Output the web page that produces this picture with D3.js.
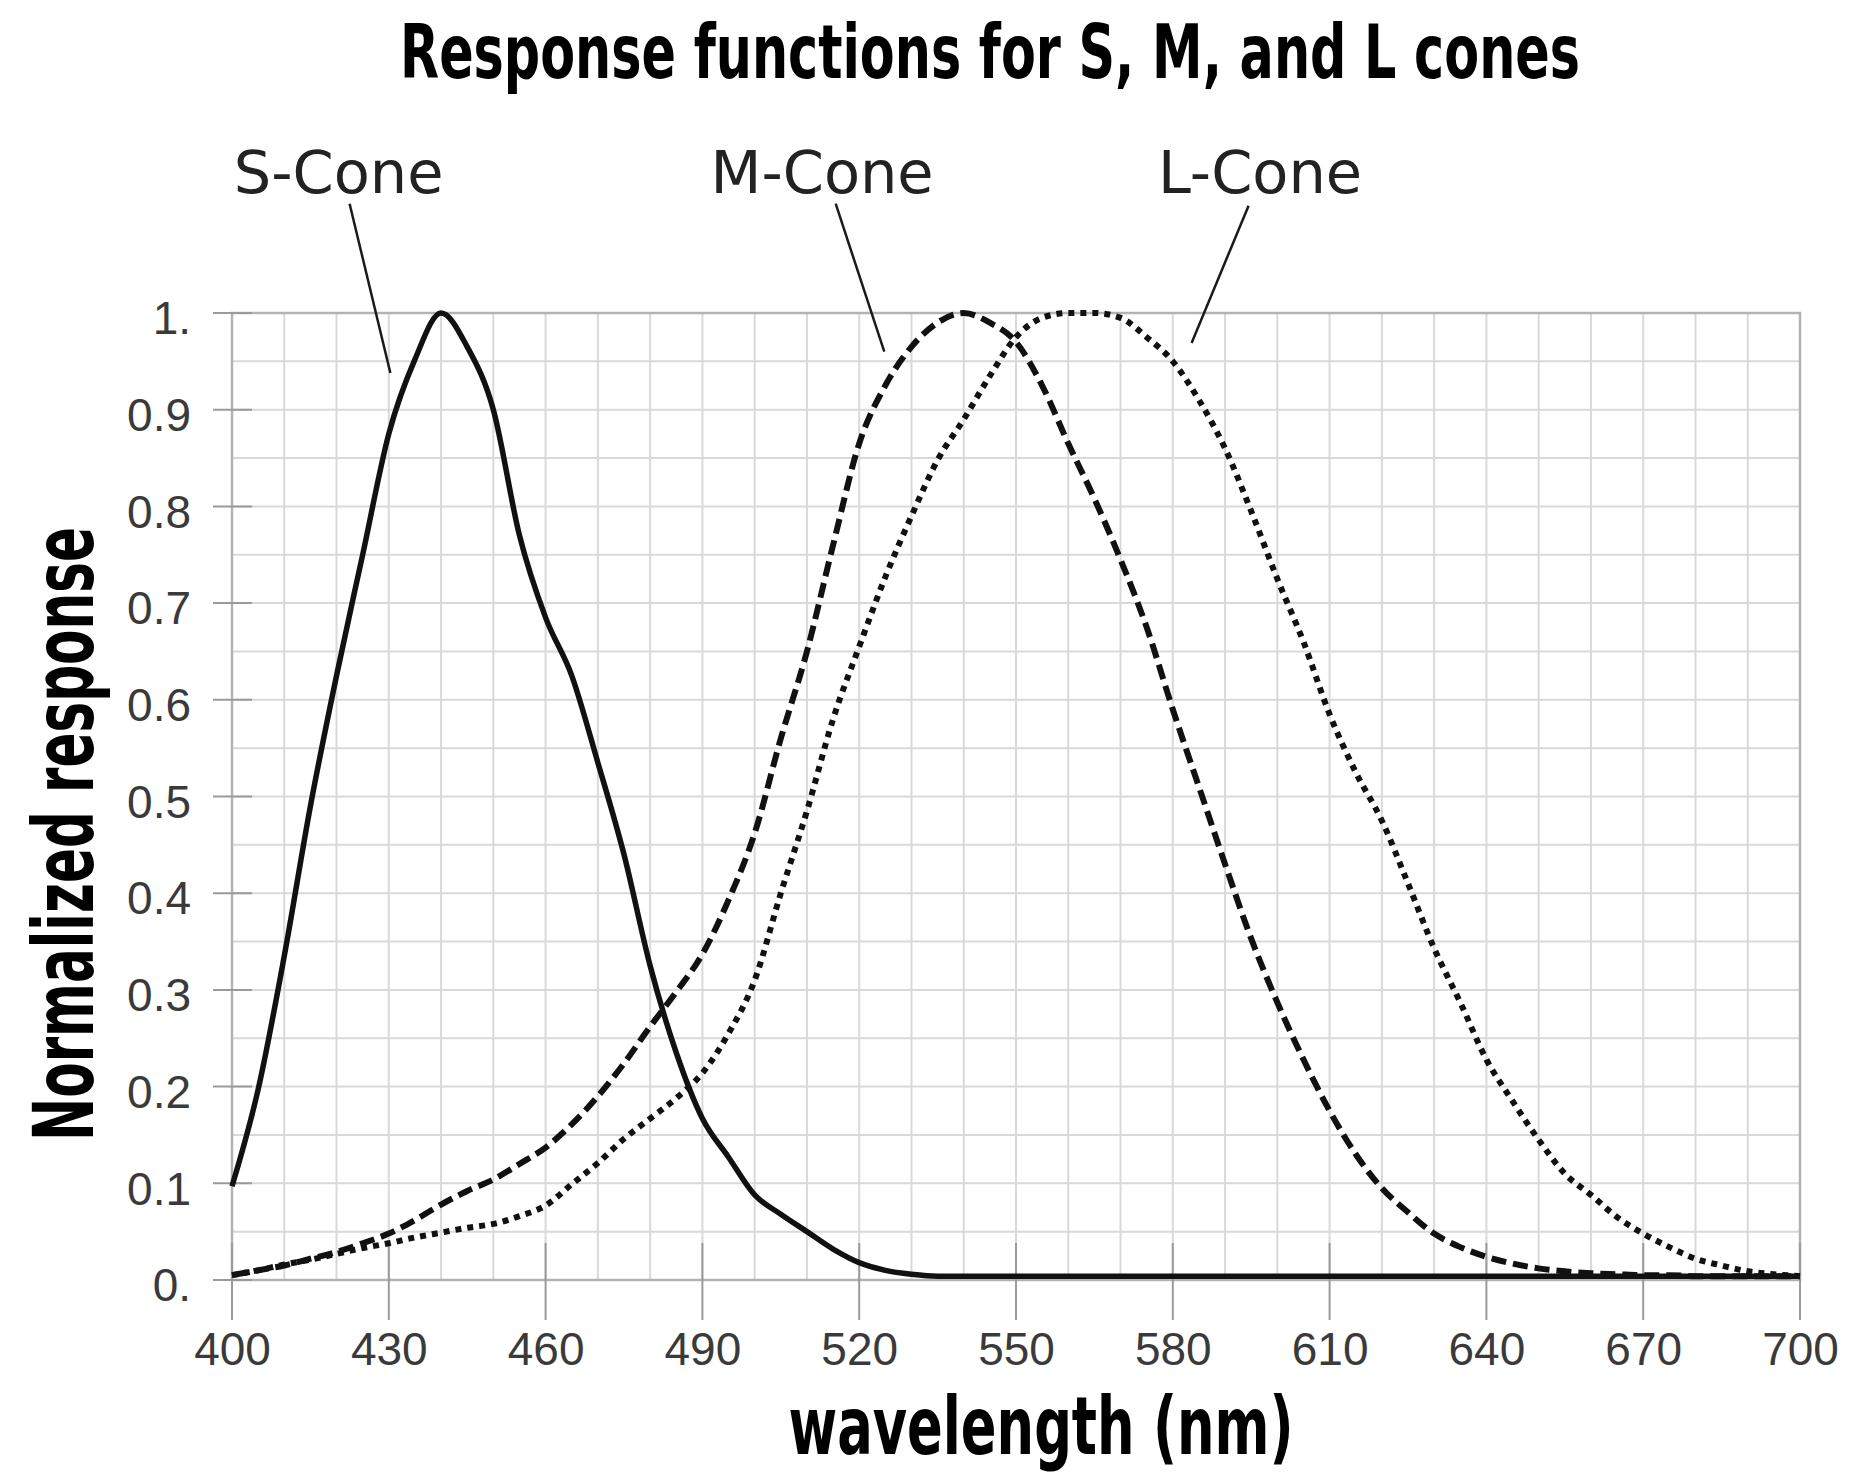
<!DOCTYPE html>
<html>
<head>
<meta charset="utf-8">
<script src="https://cdn.jsdelivr.net/npm/d3@7.9.0/dist/d3.min.js"></script>
<style>
  body { margin: 0; background: #fff; }
  svg { display: block; }
</style>
</head>
<body>
<svg id="chart" width="1874" height="1476"></svg>
<script>
// wavelength samples (nm), 5 nm apart
const wavelengths = d3.range(400, 701, 5);

// S-cone response
const sCone = [
  0.097, 0.197, 0.335, 0.49, 0.625, 0.75, 0.875, 0.952, 1.0, 0.965,
  0.90, 0.77, 0.685, 0.625, 0.535, 0.44, 0.325, 0.235, 0.167, 0.127,
  0.088, 0.068, 0.05, 0.032, 0.018, 0.01, 0.006, 0.004, 0.004, 0.004,
  0.004, 0.004, 0.004, 0.004, 0.004, 0.004, 0.004, 0.004, 0.004, 0.004,
  0.004, 0.004, 0.004, 0.004, 0.004, 0.004, 0.004, 0.004, 0.004, 0.004,
  0.004, 0.004, 0.004, 0.004, 0.004, 0.004, 0.004, 0.004, 0.004, 0.004,
  0.004
];

// M-cone response
const mCone = [
  0.005, 0.01, 0.015, 0.022, 0.029, 0.038, 0.048, 0.062, 0.078, 0.092,
  0.104, 0.12, 0.137, 0.161, 0.19, 0.224, 0.262, 0.298, 0.337, 0.393,
  0.462, 0.56, 0.65, 0.76, 0.865, 0.925, 0.965, 0.99, 1.0, 0.99,
  0.97, 0.925, 0.865, 0.808, 0.745, 0.675, 0.59, 0.51, 0.43, 0.353,
  0.287, 0.228, 0.175, 0.13, 0.095, 0.07, 0.048, 0.034, 0.024, 0.017,
  0.012, 0.009, 0.007, 0.006, 0.005, 0.005, 0.004, 0.004, 0.004, 0.004,
  0.004
];

// L-cone response
const lCone = [
  0.005, 0.01, 0.016, 0.021, 0.027, 0.033, 0.038, 0.044, 0.049, 0.054,
  0.058, 0.066, 0.077, 0.099, 0.121, 0.146, 0.167, 0.188, 0.214, 0.255,
  0.31, 0.40, 0.485, 0.58, 0.655, 0.727, 0.79, 0.848, 0.89, 0.935,
  0.975, 0.995, 1.0, 1.0, 0.995, 0.975, 0.95, 0.91, 0.86, 0.795,
  0.725, 0.66, 0.585, 0.525, 0.475, 0.41, 0.343, 0.287, 0.228, 0.185,
  0.145, 0.11, 0.088, 0.065, 0.048, 0.034, 0.022, 0.015, 0.009, 0.006,
  0.004
];

const xTicks = d3.range(400, 701, 30);
const yTicks = d3.range(0, 1.01, 0.1);
const yTickLabels = ["0.", "0.1", "0.2", "0.3", "0.4", "0.5", "0.6", "0.7", "0.8", "0.9", "1."];

// label name, label wavelength, leader line [from wl, from value, to wl, to value]
const coneLabels = ["S-Cone", "M-Cone", "L-Cone"];
const coneLabelAt = [420.4, 512.9, 596.7];
const leaders = [
  [422.5, 1.113, 430.3, 0.938],
  [515.5, 1.113, 524.8, 0.96],
  [594.5, 1.111, 583.6, 0.969]
];

const svg = d3.select('#chart');
const x = d3.scaleLinear().domain([400, 700]).range([232, 1800]);
const y = d3.scaleLinear().domain([0, 1]).range([1280, 313]);

// grid
const grid = svg.append('g').attr('stroke', '#d9d9d9').attr('stroke-width', 2);
grid.selectAll('.vg').data(d3.range(400, 701, 10)).join('line')
  .attr('x1', d => x(d)).attr('x2', d => x(d))
  .attr('y1', y(0)).attr('y2', y(1));
grid.selectAll('.hg').data(d3.range(0, 21).map(i => i * 0.05)).join('line')
  .attr('x1', x(400)).attr('x2', x(700))
  .attr('y1', d => y(d)).attr('y2', d => y(d));

// frame
svg.append('rect')
  .attr('x', x(400)).attr('y', y(1))
  .attr('width', x(700) - x(400)).attr('height', y(0) - y(1))
  .attr('fill', 'none').attr('stroke', '#b3b3b3').attr('stroke-width', 2.5);

// major ticks that cross the axes
const ticks = svg.append('g').attr('stroke', '#9a9a9a').attr('stroke-width', 2);
ticks.selectAll('.xt').data(xTicks).join('line')
  .attr('x1', d => x(d)).attr('x2', d => x(d))
  .attr('y1', y(0) - 37).attr('y2', y(0) + 40);
ticks.selectAll('.yt').data(yTicks).join('line')
  .attr('x1', x(400) - 19).attr('x2', x(400) + 20)
  .attr('y1', d => y(d)).attr('y2', d => y(d));

// tick labels through d3 axes
const xAxis = svg.append('g')
  .attr('transform', `translate(0,${y(0)})`)
  .call(d3.axisBottom(x).tickValues(xTicks).tickSize(0).tickPadding(52).tickFormat(d3.format('d')));
const yAxis = svg.append('g')
  .attr('transform', `translate(${x(400)},0)`)
  .call(d3.axisLeft(y).tickValues(yTicks).tickSize(0).tickPadding(41)
    .tickFormat((d, i) => yTickLabels[i]));
[xAxis, yAxis].forEach(a => {
  a.select('.domain').remove();
  a.selectAll('text')
    .attr('font-family', '"Liberation Sans", Arial, sans-serif')
    .attr('font-size', 46)
    .attr('fill', '#3a3a3a');
});
yAxis.selectAll('text').attr('dy', '0.45em');

// curves
const line = d3.line()
  .x((d, i) => x(wavelengths[i]))
  .y(d => y(d))
  .curve(d3.curveMonotoneX);

const series = [
  { values: lCone, dash: '6,6', width: 6 },
  { values: mCone, dash: '15,7', width: 6 },
  { values: sCone, dash: null, width: 5.5 }
];
series.forEach(s => {
  svg.append('path')
    .attr('d', line(s.values))
    .attr('fill', 'none')
    .attr('stroke', '#111')
    .attr('stroke-width', s.width)
    .attr('stroke-dasharray', s.dash);
});

// cone labels and leader lines
svg.append('g').selectAll('line').data(leaders).join('line')
  .attr('x1', d => x(d[0])).attr('y1', d => y(d[1]))
  .attr('x2', d => x(d[2])).attr('y2', d => y(d[3]))
  .attr('stroke', '#1a1a1a').attr('stroke-width', 2.5);

svg.append('g').selectAll('text').data(coneLabels).join('text')
  .attr('x', (d, i) => x(coneLabelAt[i]))
  .attr('y', 193)
  .attr('text-anchor', 'middle')
  .attr('font-family', '"DejaVu Sans", Verdana, sans-serif')
  .attr('font-size', 59)
  .attr('fill', '#222')
  .text(d => d);

// titles (condensed bold, stretched a little vertically)
const boldFont = '"Liberation Sans Narrow", "DejaVu Sans Condensed", "Roboto Condensed", sans-serif';
svg.append('text')
  .attr('transform', 'translate(990,78) scale(1,1.22)')
  .attr('text-anchor', 'middle')
  .attr('font-family', boldFont).attr('font-weight', 'bold')
  .attr('font-size', 62)
  .attr('textLength', 1180).attr('lengthAdjust', 'spacingAndGlyphs')
  .text('Response functions for S, M, and L cones');

svg.append('text')
  .attr('transform', 'translate(1041,1454) scale(1,1.08)')
  .attr('text-anchor', 'middle')
  .attr('font-family', boldFont).attr('font-weight', 'bold')
  .attr('font-size', 74)
  .attr('textLength', 505).attr('lengthAdjust', 'spacingAndGlyphs')
  .text('wavelength (nm)');

svg.append('text')
  .attr('transform', 'translate(93,834) rotate(-90) scale(1,1.1)')
  .attr('text-anchor', 'middle')
  .attr('font-family', boldFont).attr('font-weight', 'bold')
  .attr('font-size', 76)
  .attr('textLength', 614).attr('lengthAdjust', 'spacingAndGlyphs')
  .text('Normalized response');
</script>
</body>
</html>
